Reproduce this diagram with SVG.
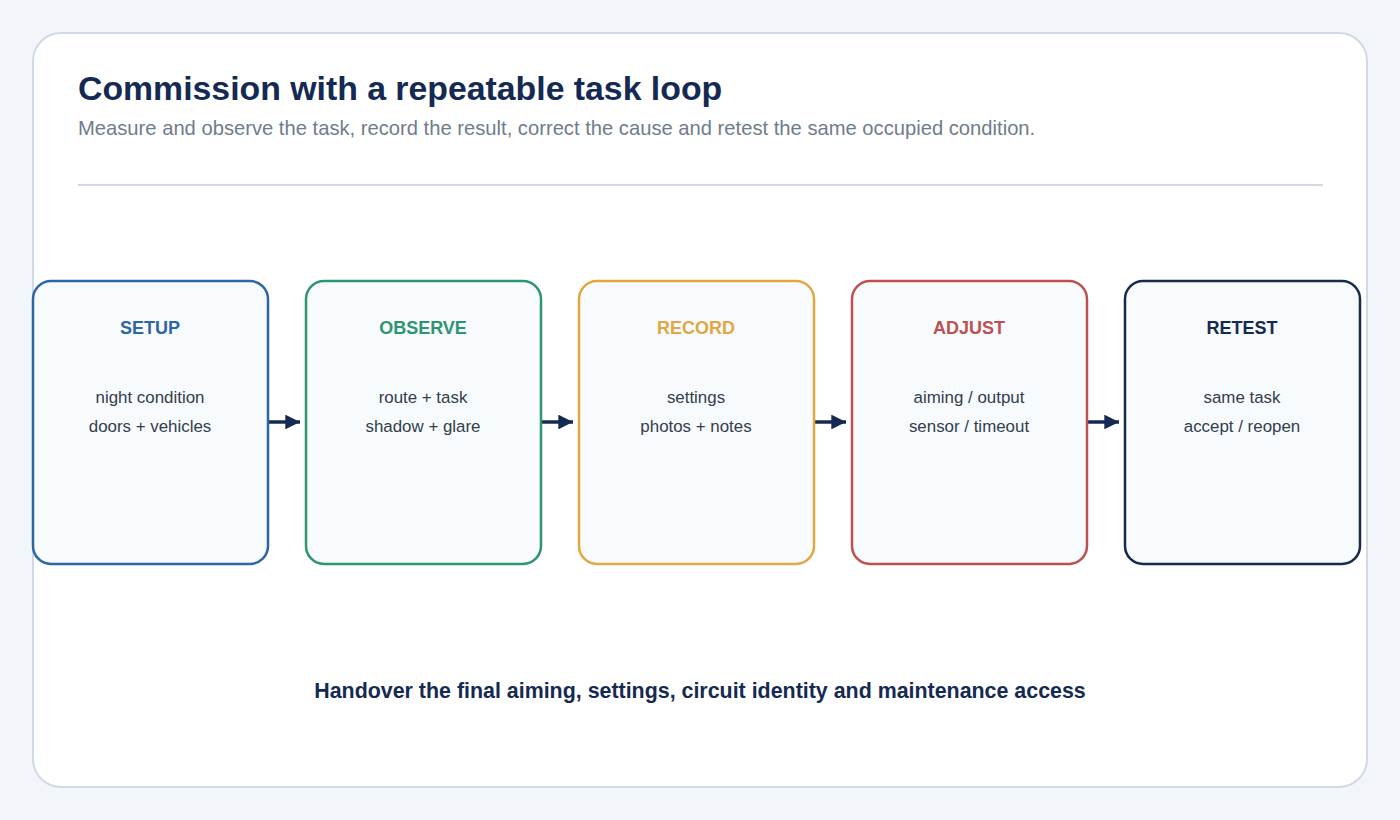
<svg xmlns="http://www.w3.org/2000/svg" width="1400" height="820" viewBox="0 0 1400 820">
<defs>
<style>
.title{font-family:"Liberation Sans",Arial,sans-serif;font-size:33.8px;font-weight:bold;fill:#152a52}
.sub{font-family:"Liberation Sans",Arial,sans-serif;font-size:20.2px;fill:#6f7c8c}
.box{fill:#f8fbfe;stroke-width:2.5}
.nt{font-family:"Liberation Sans",Arial,sans-serif;font-size:18px;font-weight:bold;text-anchor:middle}
.nb{font-family:"Liberation Sans",Arial,sans-serif;font-size:16.9px;fill:#333d4b;text-anchor:middle}
.foot{font-family:"Liberation Sans",Arial,sans-serif;font-size:21.4px;font-weight:bold;fill:#152a52;text-anchor:middle}
.conn{stroke:#152a52;stroke-width:3.5;fill:none;marker-end:url(#ah)}
</style>
<marker id="ah" viewBox="0 0 10 10" refX="10" refY="5" markerWidth="4.2" markerHeight="4.2" markerUnits="strokeWidth" orient="auto">
<path d="M0,0 L10,5 L0,10 z" fill="#152a52"/>
</marker>
</defs>
<rect width="1400" height="820" fill="#f2f5fa"/>
<rect x="33" y="33" width="1334" height="754" rx="28" fill="#ffffff" stroke="#d0d9e4" stroke-width="2"/>
<text class="title" x="78" y="100">Commission with a repeatable task loop</text>
<text class="sub" x="78" y="135">Measure and observe the task, record the result, correct the cause and retest the same occupied condition.</text>
<line x1="78" y1="185" x2="1323" y2="185" stroke="#d0d9e4" stroke-width="2"/>
<g id="connectors">
<line class="conn" x1="268" y1="422" x2="300" y2="422"/>
<line class="conn" x1="541" y1="422" x2="573" y2="422"/>
<line class="conn" x1="814" y1="422" x2="846" y2="422"/>
<line class="conn" x1="1087" y1="422" x2="1119" y2="422"/>
</g>
<g id="setup">
<rect class="box" x="33" y="281" width="235" height="283" rx="18" stroke="#2e66a3"/>
<text class="nt" x="150" y="334" fill="#2e66a3">SETUP</text>
<text class="nb" x="150" y="403">night condition</text>
<text class="nb" x="150" y="432">doors + vehicles</text>
</g>
<g id="observe">
<rect class="box" x="306" y="281" width="235" height="283" rx="18" stroke="#2f9470"/>
<text class="nt" x="423" y="334" fill="#2f9470">OBSERVE</text>
<text class="nb" x="423" y="403">route + task</text>
<text class="nb" x="423" y="432">shadow + glare</text>
</g>
<g id="record">
<rect class="box" x="579" y="281" width="235" height="283" rx="18" stroke="#e0a83f"/>
<text class="nt" x="696" y="334" fill="#e0a83f">RECORD</text>
<text class="nb" x="696" y="403">settings</text>
<text class="nb" x="696" y="432">photos + notes</text>
</g>
<g id="adjust">
<rect class="box" x="852" y="281" width="235" height="283" rx="18" stroke="#c0504f"/>
<text class="nt" x="969" y="334" fill="#c0504f">ADJUST</text>
<text class="nb" x="969" y="403">aiming / output</text>
<text class="nb" x="969" y="432">sensor / timeout</text>
</g>
<g id="retest">
<rect class="box" x="1125" y="281" width="235" height="283" rx="18" stroke="#152a4d"/>
<text class="nt" x="1242" y="334" fill="#152a4d">RETEST</text>
<text class="nb" x="1242" y="403">same task</text>
<text class="nb" x="1242" y="432">accept / reopen</text>
</g>
<text class="foot" x="700" y="698">Handover the final aiming, settings, circuit identity and maintenance access</text>
</svg>
